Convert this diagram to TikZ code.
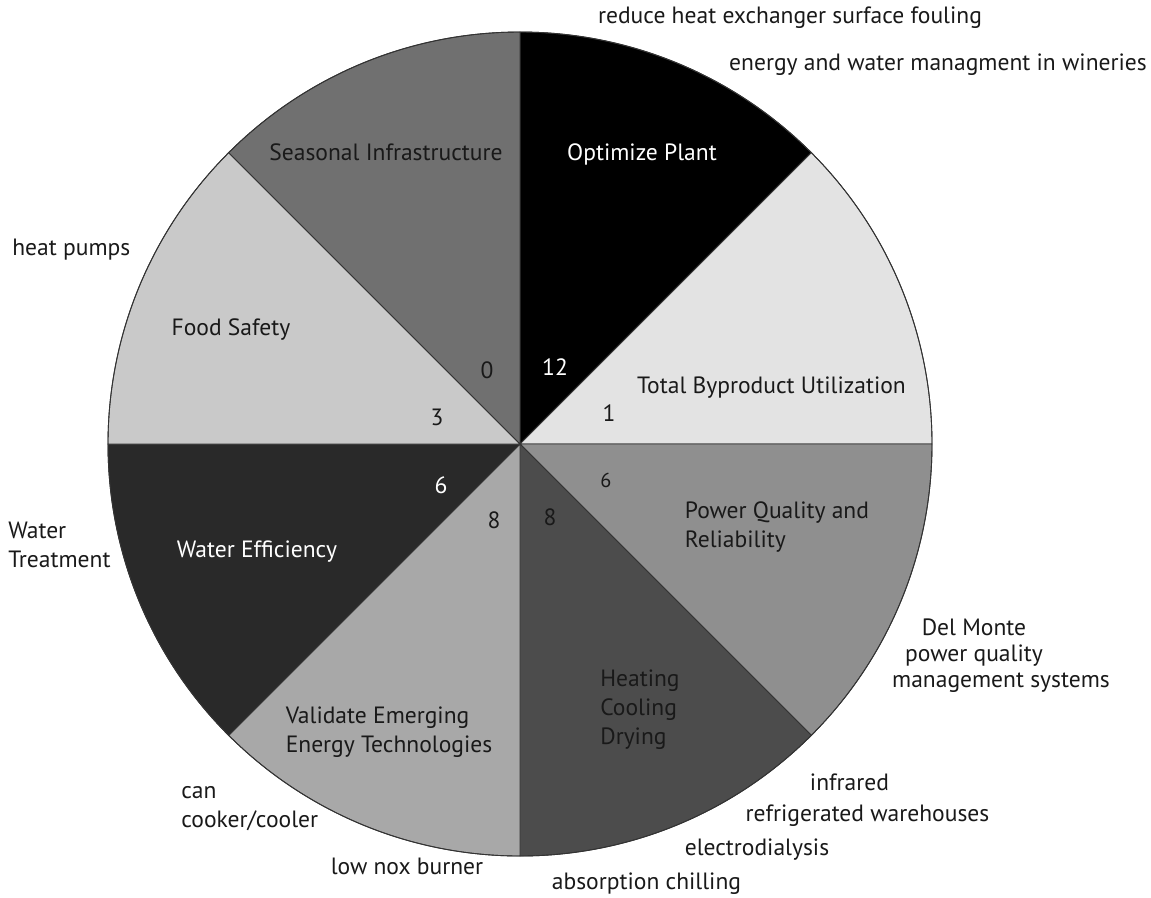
\documentclass[tikz,border=0pt]{standalone}
\usepackage{fontspec}
\setmainfont{PT Sans}
\usepackage{tikz}
\usepackage{xcolor}

\definecolor{segA}{gray}{0.44}
\definecolor{segB}{gray}{0.0}
\definecolor{segC}{gray}{0.89}
\definecolor{segD}{gray}{0.56}
\definecolor{segE}{gray}{0.30}
\definecolor{segF}{gray}{0.66}
\definecolor{segG}{gray}{0.16}
\definecolor{segH}{gray}{0.79}

\tikzset{
  lbl/.style={font=\fontsize{13.4}{16.5}\selectfont, text=black!90, inner sep=0pt},
  num/.style={lbl},
}

\begin{document}
\begin{tikzpicture}
\useasboundingbox (-10.4,-9.06) rectangle (12.62,8.88);
\coordinate (c) at (0,0);
% sectors
\foreach \a/\col in {90/segB, 45/segC, 0/segD, -45/segE, -90/segF, -135/segG, 180/segH, 135/segA}
  \filldraw[fill=\col, draw=black!80, line width=0.5pt] (c) -- (\a:8.24) arc[start angle=\a, delta angle=-45, radius=8.24] -- cycle;
\draw[black!80, line width=0.5pt] (c) circle (8.24);

\node[lbl] (seasonal) at (-2.68,5.84) {Seasonal Infrastructure};
\node[lbl, text=white] (optimize) at (2.44,5.80) {Optimize Plant};
\node[lbl] (byproduct) at (5.03,1.12) {Total Byproduct Utilization};
\node[lbl, align=left] (power) at (5.14,-1.66) {Power Quality and\\Reliability};
\node[lbl, anchor=west, align=left] (heating) at (1.60,-5.32) {Heating\\Cooling\\Drying};
\node[lbl, align=left] (validate) at (-2.62,-5.76) {Validate Emerging\\Energy Technologies};
\node[lbl, text=white] (water) at (-5.26,-2.16) {Water Efficiency};
\node[lbl] (food) at (-5.78,2.28) {Food Safety};

\node[num] (n0) at (-0.66,1.48) {0};
\node[num, text=white] (n12) at (0.70,1.54) {12};
\node[num] (n1) at (1.78,0.62) {1};
\node[num, font=\fontsize{11.5}{14}\selectfont] (n6r) at (1.72,-0.72) {6};
\node[num] (n8r) at (0.60,-1.46) {8};
\node[num] (n8l) at (-0.52,-1.52) {8};
\node[num, text=white] (n6l) at (-1.58,-0.82) {6};
\node[num] (n3) at (-1.66,0.54) {3};

% outer notes
\node[lbl] (fouling) at (5.40,8.52) {reduce heat exchanger surface fouling};
\node[lbl] (wineries) at (8.36,7.58) {energy and water managment in wineries};
\node[lbl, anchor=west] (pumps) at (-10.16,3.88) {heat pumps};
\node[lbl, anchor=west, align=left] (treat) at (-10.24,-2.02) {Water\\Treatment};
\node[lbl] (delmonte) at (9.08,-3.66) {Del Monte};
\node[lbl] (pq) at (9.08,-4.24) {power quality};
\node[lbl] (mgmt) at (9.62,-4.78) {management systems};
\node[lbl] (infrared) at (6.59,-6.76) {infrared};
\node[lbl] (warehouses) at (6.95,-7.44) {refrigerated warehouses};
\node[lbl] (electro) at (4.74,-8.12) {electrodialysis};
\node[lbl] (chilling) at (2.53,-8.80) {absorption chilling};
\node[lbl, anchor=west, align=left] (cooker) at (-6.78,-7.30) {can\\cooker/cooler};
\node[lbl] (nox) at (-2.26,-8.44) {low nox burner};
\end{tikzpicture}
\end{document}
